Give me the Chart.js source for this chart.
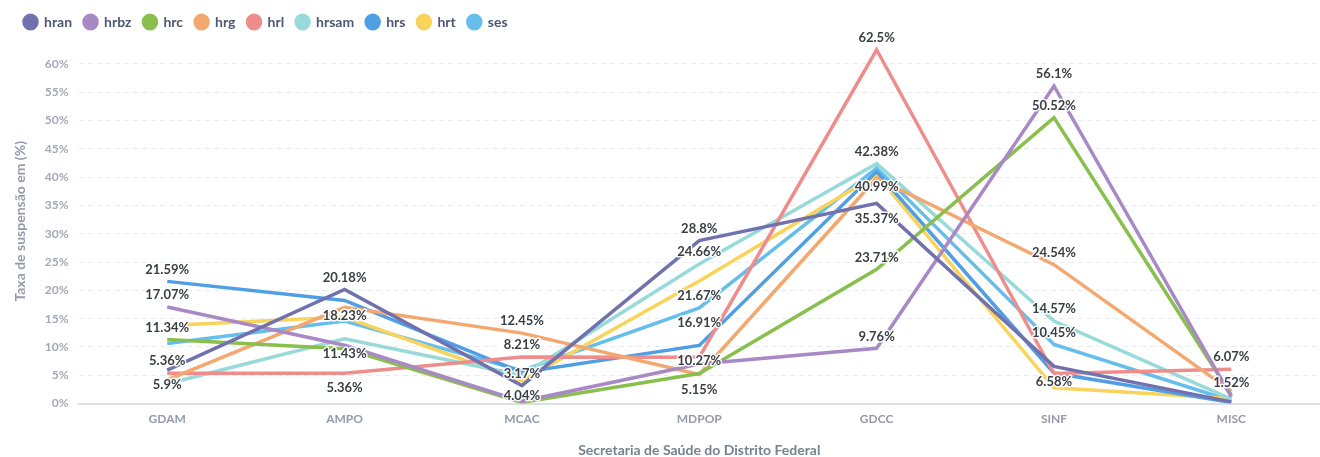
<!DOCTYPE html>
<html>
<head>
<meta charset="utf-8">
<script src="https://cdn.jsdelivr.net/npm/chart.js@4/dist/chart.umd.min.js"></script>
<style>
  html, body { margin: 0; padding: 0; background: #fff; }
  #wrap { width: 1320px; height: 457px; }
</style>
</head>
<body>
<div id="wrap"><canvas id="chart"></canvas></div>
<script>
// categorias (eixo x)
const categories = ['GDAM', 'AMPO', 'MCAC', 'MDPOP', 'GDCC', 'SINF', 'MISC'];

// taxa de suspensão (%) por unidade
const hran  = [5.9, 20.18, 3.17, 28.8, 35.37, 6.58, 0.3];
const hrbz  = [17.07, 10.3, 0.4, 7.0, 9.76, 56.1, 1.2];
const hrc   = [11.34, 9.7, 0.2, 5.3, 23.71, 50.52, 1.52];
const hrg   = [4.2, 17.0, 12.45, 5.15, 39.8, 24.54, 2.2];
const hrl   = [5.36, 5.36, 8.21, 8.2, 62.5, 5.3, 6.07];
const hrsam = [3.5, 11.43, 5.0, 24.66, 42.38, 14.57, 0.8];
const hrs   = [21.59, 18.23, 5.5, 10.27, 40.99, 5.4, 0.2];
const hrt   = [13.8, 15.3, 4.04, 21.67, 40.4, 2.8, 0.9];
const ses   = [10.6, 14.6, 5.8, 16.91, 41.6, 10.45, 0.5];

const seriesNames = ['hran', 'hrbz', 'hrc', 'hrg', 'hrl', 'hrsam', 'hrs', 'hrt', 'ses'];
const seriesData  = [hran, hrbz, hrc, hrg, hrl, hrsam, hrs, hrt, ses];
const seriesColors = ['#7172AD', '#A989C5', '#88BF4D', '#F2A86F', '#EF8C8C', '#98D9D9', '#509EE3', '#F9D45C', '#65BFEA'];

// ticks do eixo y
const yTicks = [0, 5, 10, 15, 20, 25, 30, 35, 40, 45, 50, 55, 60];

// rótulos de valor visíveis: [série, índice, posição]
const valueLabels = [
  ['hrs', 0, 'top'], ['hrbz', 0, 'top'], ['hrc', 0, 'top'], ['hrl', 0, 'top'], ['hran', 0, 'bottom'],
  ['hran', 1, 'top'], ['hrs', 1, 'bottom'], ['hrsam', 1, 'bottom'], ['hrl', 1, 'bottom'],
  ['hrg', 2, 'top'], ['hrl', 2, 'top'], ['hran', 2, 'top'], ['hrt', 2, 'bottom'],
  ['hran', 3, 'top'], ['hrsam', 3, 'top'], ['hrt', 3, 'bottom'], ['ses', 3, 'bottom'], ['hrs', 3, 'bottom'], ['hrg', 3, 'bottom'],
  ['hrl', 4, 'top'], ['hrsam', 4, 'top'], ['hrs', 4, 'bottom'], ['hran', 4, 'bottom'], ['hrc', 4, 'top'], ['hrbz', 4, 'top'],
  ['hrbz', 5, 'top'], ['hrc', 5, 'top'], ['hrg', 5, 'top'], ['hrsam', 5, 'top'], ['ses', 5, 'top'], ['hran', 5, 'bottom'],
  ['hrl', 6, 'top'], ['hrc', 6, 'top']
];

const FONT = "Lato, 'Open Sans', sans-serif";

const labelPlugin = {
  id: 'valueLabels',
  afterDatasetsDraw(chart) {
    const ctx = chart.ctx;
    ctx.save();
    ctx.font = "bold 13px " + FONT;
    ctx.textAlign = 'center';
    ctx.textBaseline = 'middle';
    ctx.lineJoin = 'round';
    valueLabels.forEach(([name, idx, pos]) => {
      const di = seriesNames.indexOf(name);
      const pt = chart.getDatasetMeta(di).data[idx];
      if (!pt) return;
      const txt = seriesData[di][idx] + '%';
      const y = pos === 'top' ? pt.y - 12 : pt.y + 15;
      ctx.strokeStyle = 'rgba(255,255,255,0.9)';
      ctx.lineWidth = 3;
      ctx.strokeText(txt, pt.x, y);
      ctx.fillStyle = '#3a3f44';
      ctx.fillText(txt, pt.x, y);
    });
    ctx.restore();
  }
};

new Chart(document.getElementById('chart'), {
  type: 'line',
  data: {
    labels: categories,
    datasets: seriesNames.map((n, i) => ({
      label: n,
      data: seriesData[i],
      borderColor: seriesColors[i],
      backgroundColor: seriesColors[i],
      borderWidth: 3.5,
      pointRadius: 0,
      pointHoverRadius: 0,
      tension: 0,
      fill: false
    }))
  },
  options: {
    responsive: true,
    maintainAspectRatio: false,
    animation: false,
    layout: { padding: { top: 3, left: 12, right: 0, bottom: 0 } },
    plugins: {
      legend: {
        position: 'top',
        align: 'start',
        labels: {
          usePointStyle: true,
          pointStyle: 'circle',
          pointStyleWidth: 13,
          boxWidth: 13,
          boxHeight: 9.5,
          padding: 12,
          color: '#4C5773',
          font: { family: FONT, size: 14, weight: 'bold' }
        }
      },
      tooltip: { enabled: false }
    },
    scales: {
      x: {
        offset: true,
        grid: { display: false, drawTicks: false },
        border: { display: true, color: '#DCE0E4', width: 2 },
        ticks: { color: '#949AAB', padding: 8, font: { family: FONT, size: 12, weight: 'bold' } },
        title: {
          display: true,
          text: 'Secretaria de Saúde do Distrito Federal',
          color: '#74838F',
          padding: { top: 9, bottom: 0 },
          font: { family: FONT, size: 14, weight: 'bold', lineHeight: 1 }
        }
      },
      y: {
        min: 0,
        max: 64.4,
        afterBuildTicks: (scale) => { scale.ticks = yTicks.map(v => ({ value: v })); },
        grid: { color: '#E9ECEF', drawTicks: false, lineWidth: 1 },
        border: { display: false, dash: [5, 4] },
        ticks: {
          color: '#A3A9B5',
          padding: 10,
          font: { family: FONT, size: 12, weight: 'bold' },
          callback: (v) => v + '%'
        },
        title: {
          display: true,
          text: 'Taxa de suspensão em (%)',
          color: '#949AAB',
          padding: { top: 0, bottom: 6 },
          font: { family: FONT, size: 14, weight: 'bold' }
        }
      }
    }
  },
  plugins: [labelPlugin]
});
</script>
</body>
</html>
